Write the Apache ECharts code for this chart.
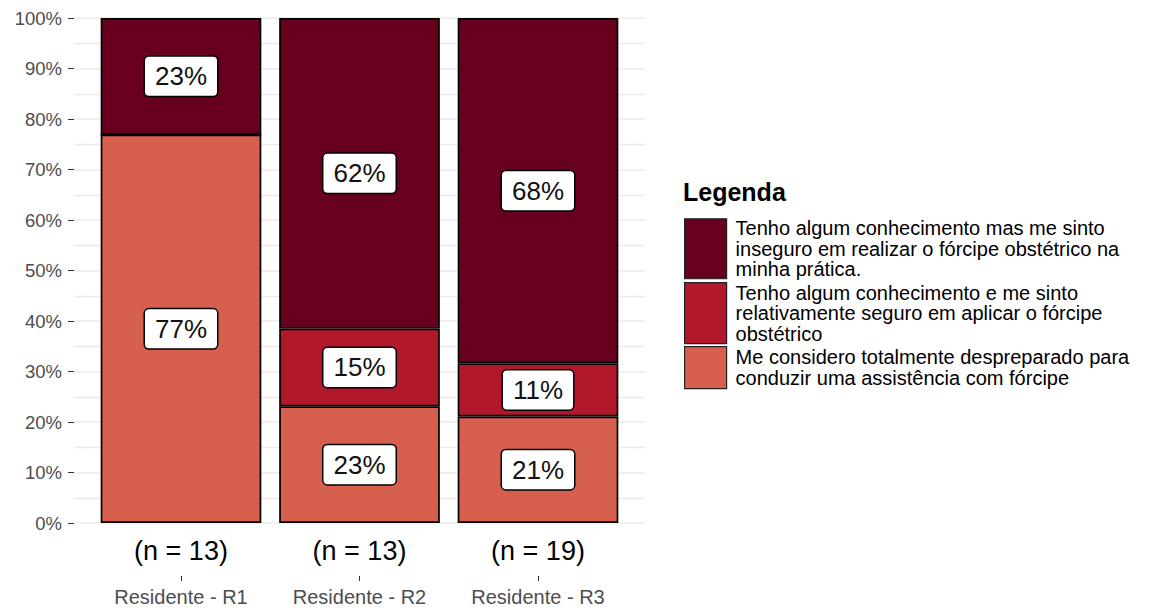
<!DOCTYPE html>
<html>
<head>
<meta charset="utf-8">
<script src="https://cdn.jsdelivr.net/npm/echarts@6/dist/echarts.min.js"></script>
<style>
html,body{margin:0;padding:0;background:#fff;}
#chart{width:1149px;height:610px;}
</style>
</head>
<body>
<div id="chart"></div>
<script>
// ---- data ----
const categories = ['Residente - R1', 'Residente - R2', 'Residente - R3'];
const nLabels = ['(n = 13)', '(n = 13)', '(n = 19)'];
const seriesNames = [
  'Tenho algum conhecimento mas me sinto inseguro em realizar o fórcipe obstétrico na minha prática.',
  'Tenho algum conhecimento e me sinto relativamente seguro em aplicar o fórcipe obstétrico',
  'Me considero totalmente despreparado para conduzir uma assistência com fórcipe'
];
const legendLabels = [
  'Tenho algum conhecimento mas me sinto\ninseguro em realizar o fórcipe obstétrico na\nminha prática.',
  'Tenho algum conhecimento e me sinto\nrelativamente seguro em aplicar o fórcipe\nobstétrico',
  'Me considero totalmente despreparado para\nconduzir uma assistência com fórcipe'
];
const inseguro = [23.1, 61.5, 68.4];
const relativamenteSeguro = [0, 15.4, 10.5];
const despreparado = [76.9, 23.1, 21.1];
const colors = ['#67001F', '#B2182B', '#D6604D'];

// ---- chart ----
const FONT = '"Liberation Sans", Arial, sans-serif';
const chart = echarts.init(document.getElementById('chart'), null, {renderer: 'svg'});

function prep(vals) {
  return vals.map(v => v === 0 ? {value: 0, label: {show: false}} : v);
}
function barSeries(name, vals, color) {
  return {
    name: name,
    type: 'bar',
    stack: 'total',
    xAxisIndex: 1,
    yAxisIndex: 1,
    barWidth: '90%',
    data: prep(vals),
    itemStyle: {color: color, borderColor: '#000', borderWidth: 1.7},
    label: {
      show: true,
      position: 'inside',
      formatter: p => Math.round(p.value) + '%',
      fontFamily: FONT,
      fontSize: 26,
      color: '#111',
      backgroundColor: '#fff',
      borderColor: '#000',
      borderWidth: 1.5,
      borderRadius: 4,
      padding: [7, 10, 6, 10]
    },
    emphasis: {disabled: true}
  };
}
const legendTops = [218, 282, 346];
const legendHeights = [60, 61, 42];

chart.setOption({
  animation: false,
  textStyle: {fontFamily: FONT},
  title: {
    text: 'Legenda', left: 683, top: 179, padding: 0,
    textStyle: {fontFamily: FONT, fontSize: 25, fontWeight: 'bold', color: '#000'}
  },
  legend: seriesNames.map((n, i) => ({
    data: [n],
    left: 684,
    top: legendTops[i],
    padding: 0,
    orient: 'vertical',
    selectedMode: false,
    icon: 'rect',
    itemWidth: 42,
    itemHeight: legendHeights[i],
    itemStyle: {borderColor: '#222', borderWidth: 1.2},
    formatter: name => legendLabels[seriesNames.indexOf(name)],
    textStyle: {fontFamily: FONT, fontSize: 20, lineHeight: 20.5, color: '#000', padding: [0, 0, 0, 4]}
  })),
  grid: [
    {left: 74, top: 18, width: 571, height: 505},
    {left: 91.75, top: 18, width: 535.5, height: 505}
  ],
  xAxis: [
    {gridIndex: 0, type: 'value', min: 0, max: 1, show: false},
    {
      gridIndex: 1, type: 'category', data: nLabels, position: 'bottom', offset: 0,
      axisLine: {show: false}, axisTick: {show: false, length: 0, lineStyle: {color: 'transparent'}},
      axisLabel: {fontFamily: FONT, fontSize: 27, color: '#000', margin: 14}
    },
    {
      gridIndex: 1, type: 'category', data: categories, position: 'bottom', offset: 53,
      axisLine: {show: true, lineStyle: {color: 'rgba(0,0,0,0)'}},
      axisTick: {show: true, alignWithLabel: true, length: 5, lineStyle: {color: '#333', width: 1}},
      axisLabel: {fontFamily: FONT, fontSize: 20, color: '#4D4D4D', margin: 11}
    }
  ],
  yAxis: [
    {
      gridIndex: 0, type: 'value', min: 0, max: 100, interval: 10,
      axisLine: {show: false},
      axisTick: {show: true, length: 6, lineStyle: {color: '#333'}},
      axisLabel: {formatter: '{value}%', fontFamily: FONT, fontSize: 18.5, color: '#4D4D4D', margin: 12},
      splitLine: {show: true, lineStyle: {color: '#EBEBEB', width: 1.6}},
      minorTick: {show: false, splitNumber: 2},
      minorSplitLine: {show: true, lineStyle: {color: '#EBEBEB', width: 1.4}}
    },
    {gridIndex: 1, type: 'value', min: 0, max: 100, show: false}
  ],
  series: [
    barSeries(seriesNames[2], despreparado, colors[2]),
    barSeries(seriesNames[1], relativamenteSeguro, colors[1]),
    barSeries(seriesNames[0], inseguro, colors[0])
  ]
});
</script>
</body>
</html>
